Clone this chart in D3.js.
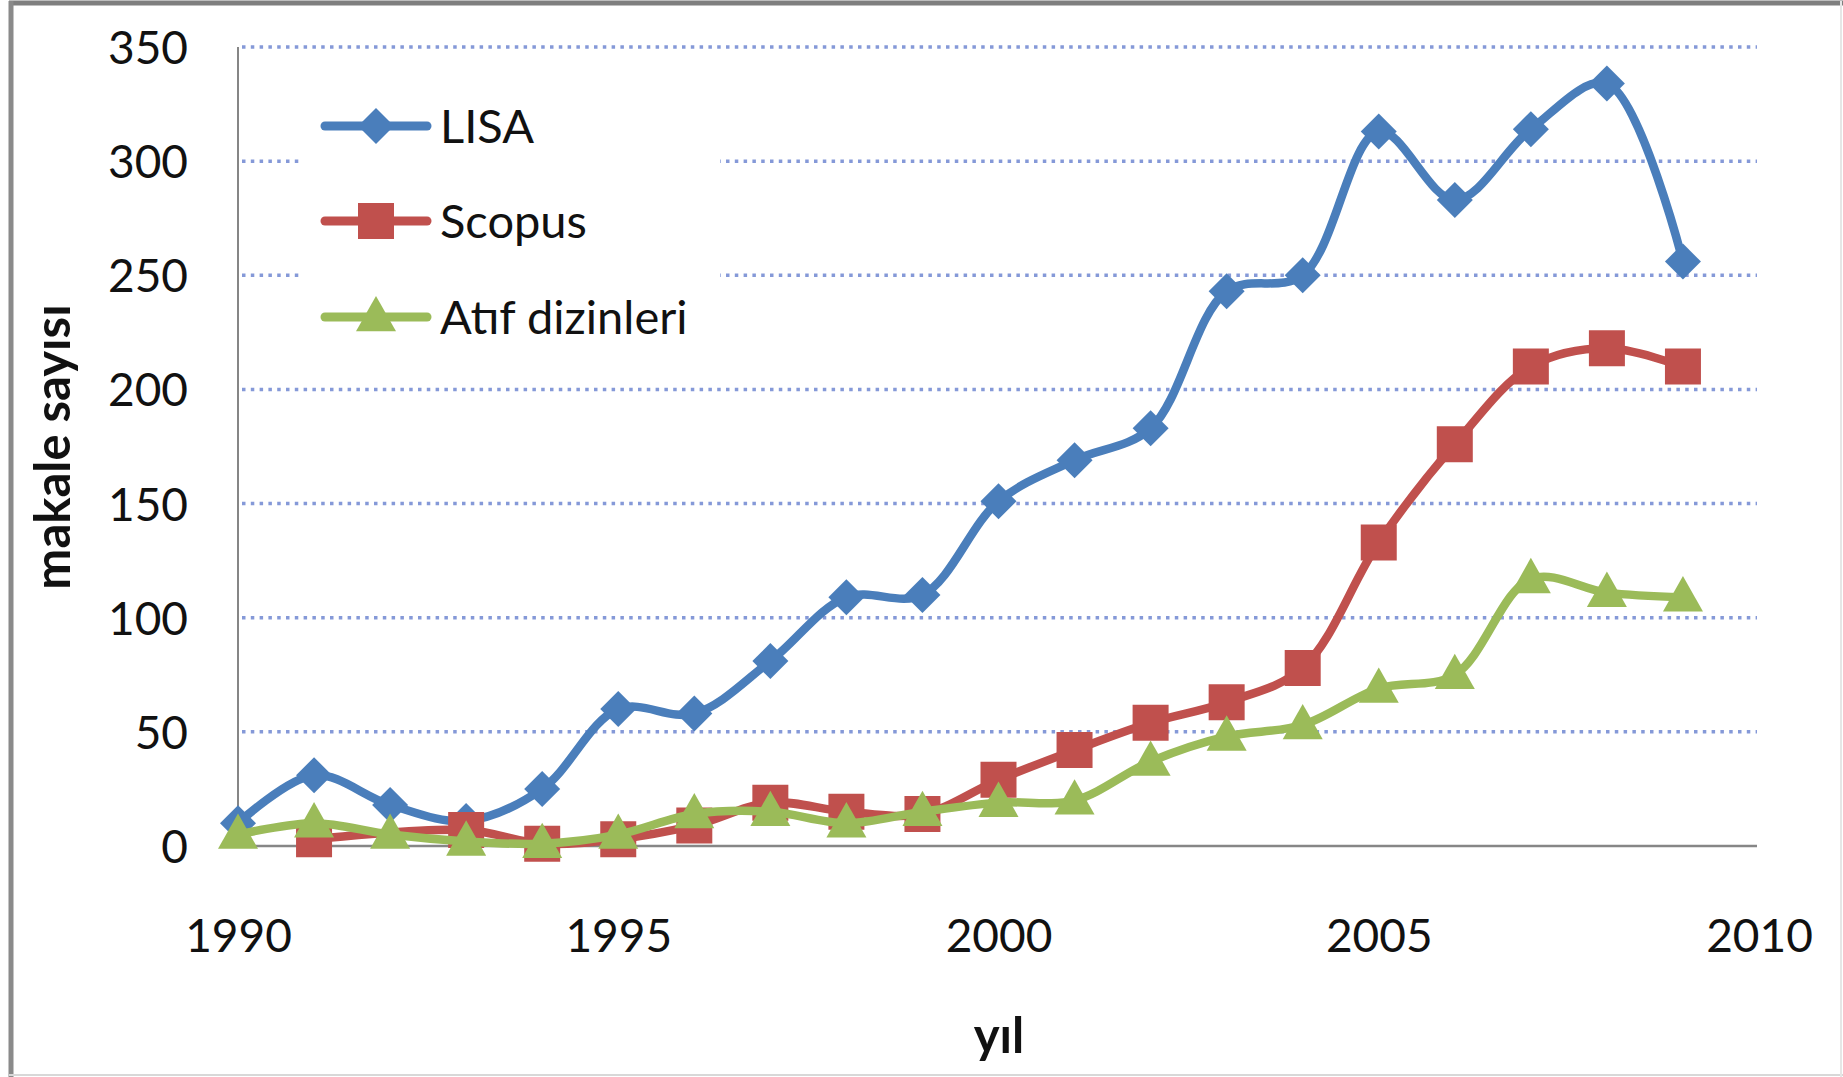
<!DOCTYPE html>
<html>
<head>
<meta charset="utf-8">
<script src="https://cdn.jsdelivr.net/npm/d3@7"></script>
<style>
  html, body { margin: 0; padding: 0; background: #fff; }
  svg { display: block; }
  text { font-family: Lato, "Open Sans", sans-serif; fill: #111; }
</style>
</head>
<body>
<svg id="chart" width="1843" height="1077"></svg>
<script>
const years = [1990,1991,1992,1993,1994,1995,1996,1997,1998,1999,2000,2001,2002,2003,2004,2005,2006,2007,2008,2009];
const lisa   = [10,31,18,11,25,60,58,81,109,110,151,169,183,243,250,313,283,314,334,256];
const scopus = [null,3,null,7,1,3,9,19,15,14,29,42,54,63,78,133,176,210,218,210];
const atif   = [5,10,5,2,1,5,14,15,10,15,19,20,37,48,53,69,75,117,111,109];
const seriesNames = ["LISA","Scopus","Atıf dizinleri"];
const xTicks = [1990,1995,2000,2005,2010];
const yTicks = [0,50,100,150,200,250,300,350];
const xTitle = "yıl";
const yTitle = "makale sayısı";

const colors = ["#4a7ebb","#c0504d","#9bbb59"];
const svg = d3.select("#chart");
const W = 1843, H = 1077;

// outer frame
svg.append("rect").attr("x",0).attr("y",0).attr("width",W).attr("height",H).attr("fill","#fff");
svg.append("line").attr("x1",9).attr("x2",W).attr("y1",3).attr("y2",3).attr("stroke","#7f7f7f").attr("stroke-width",5);
svg.append("line").attr("x1",11).attr("x2",11).attr("y1",1).attr("y2",H).attr("stroke","#8a8a8a").attr("stroke-width",5);
svg.append("line").attr("x1",9).attr("x2",W).attr("y1",H-2).attr("y2",H-2).attr("stroke","#d8d8d8").attr("stroke-width",2);
svg.append("line").attr("x1",W-2).attr("x2",W-2).attr("y1",1).attr("y2",H).attr("stroke","#e6e6e6").attr("stroke-width",2);

const x = d3.scaleLinear().domain([1990,2010]).range([238,1759]);
const y = d3.scaleLinear().domain([0,350]).range([846,47]);

// gridlines
const grid = svg.append("g");
grid.selectAll("line").data(yTicks.filter(d=>d>0)).join("line")
  .attr("x1",x(1990)+4).attr("x2",1757)
  .attr("y1",d=>y(d)).attr("y2",d=>y(d))
  .attr("stroke","#8599d8").attr("stroke-width",3.5)
  .attr("stroke-dasharray","3.5,5.3");

// axes lines
svg.append("line").attr("x1",x(1990)).attr("x2",x(1990)).attr("y1",y(350)).attr("y2",y(0))
  .attr("stroke","#868686").attr("stroke-width",2);
svg.append("line").attr("x1",x(1990)).attr("x2",1757).attr("y1",y(0)).attr("y2",y(0))
  .attr("stroke","#868686").attr("stroke-width",2.5);

// y axis labels
const yAxis = d3.axisLeft(y).tickValues(yTicks).tickSize(0).tickPadding(50);
const gy = svg.append("g").attr("transform",`translate(${x(1990)},0)`).call(yAxis);
gy.select(".domain").remove();
gy.selectAll("text").style("font-family","Lato, sans-serif").style("font-size","46px").attr("fill","#111").attr("dy","0.36em");

// x axis labels
const xAxis = d3.axisBottom(x).tickValues(xTicks).tickFormat(d3.format("d")).tickSize(0).tickPadding(89);
const gx = svg.append("g").attr("transform",`translate(0,${y(0)})`).call(xAxis);
gx.select(".domain").remove();
gx.selectAll("text").style("font-family","Lato, sans-serif").style("font-size","46px").attr("fill","#111").attr("dy","0.36em");

// titles
svg.append("text").attr("x",999).attr("y",1053).attr("text-anchor","middle")
  .style("font-size","49px").style("font-weight","bold").text(xTitle);
svg.append("text").attr("transform","translate(70,447) rotate(-90)").attr("text-anchor","middle")
  .style("font-size","49px").style("font-weight","bold").text(yTitle);

// lines
const allSeries = [lisa, scopus, atif];
const curve = d3.curveCatmullRom.alpha(0.5);
const line = d3.line().defined(d=>d[1]!==null).x(d=>x(d[0])).y(d=>y(d[1])).curve(curve);

function markerPath(k, cx, cy){
  if(k===0){ const r=18; return `M${cx},${cy-r}L${cx+r},${cy}L${cx},${cy+r}L${cx-r},${cy}Z`; }
  if(k===1){ const s=18; return `M${cx-s},${cy-s}H${cx+s}V${cy+s}H${cx-s}Z`; }
  const w=20, h=34; return `M${cx},${cy-h*0.62}L${cx+w},${cy+h*0.42}L${cx-w},${cy+h*0.42}Z`;
}

allSeries.forEach((vals,k)=>{
  const pts = years.map((yr,i)=>[yr, vals[i]]).filter(d=>d[1]!==null);
  svg.append("path").datum(pts).attr("d",line)
    .attr("fill","none").attr("stroke",colors[k]).attr("stroke-width",8.5)
    .attr("stroke-linejoin","round").attr("stroke-linecap","round");
  svg.append("g").selectAll("path").data(pts).join("path")
    .attr("d",d=>markerPath(k,x(d[0]),y(d[1])))
    .attr("fill",colors[k]);
});

// legend (white background box breaking gridlines)
svg.append("rect").attr("x",303).attr("y",75).attr("width",417).attr("height",285).attr("fill","#fff");
const legY = [126,221,317];
seriesNames.forEach((name,k)=>{
  svg.append("line").attr("x1",325).attr("x2",427).attr("y1",legY[k]).attr("y2",legY[k])
    .attr("stroke",colors[k]).attr("stroke-width",9).attr("stroke-linecap","round");
  svg.append("path").attr("d",markerPath(k,376,legY[k])).attr("fill",colors[k]);
  svg.append("text").attr("x",440).attr("y",legY[k]).attr("dy","0.36em")
    .style("font-size","47px").text(name);
});
</script>
</body>
</html>
